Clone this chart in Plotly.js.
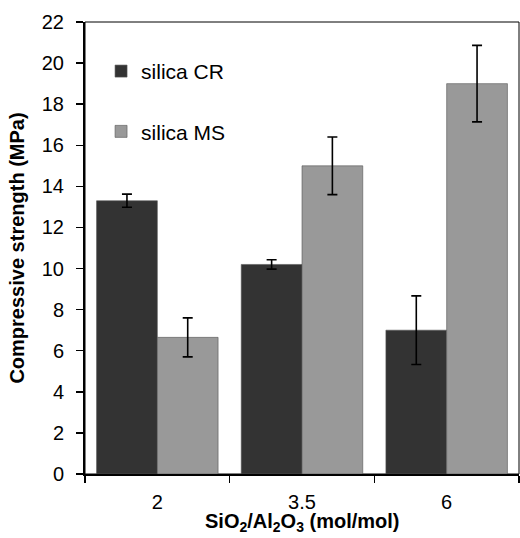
<!DOCTYPE html>
<html><head><meta charset="utf-8">
<script src="https://cdn.plot.ly/plotly-3.0.1.min.js"></script>
<style>html,body{margin:0;padding:0;background:#fff}#chart{width:520px;height:538px}</style>
</head><body><div id="chart"></div>
<script>
var categories = ["2", "3.5", "6"];
var seriesNames = ["silica CR", "silica MS"];
var crValues = [13.3, 10.2, 7.0];
var crErrors = [0.32, 0.23, 1.67];
var msValues = [6.65, 15.0, 19.0];
var msErrors = [0.95, 1.4, 1.86];
var yTickValues = [0, 2, 4, 6, 8, 10, 12, 14, 16, 18, 20, 22];
var xTitle = "<b>SiO<sub>2</sub>/Al<sub>2</sub>O<sub>3</sub> (mol/mol)</b>";
var yTitle = "<b>Compressive strength (MPa)</b>";

var font = "Arial, 'Liberation Sans', sans-serif";
function barTrace(name, vals, errs, color, group) {
  return {
    type: "bar", name: name, x: categories, y: vals, legendgroup: group,
    marker: {color: color, line: {color: "#555", width: 0.6}},
    error_y: {type: "data", array: errs, visible: true, color: "#000", thickness: 1.6, width: 5}
  };
}
var data = [
  barTrace(seriesNames[0], crValues, crErrors, "#333333", "a"),
  barTrace(seriesNames[1], msValues, msErrors, "#999999", "b")
];
var layout = {
  width: 520, height: 538,
  margin: {l: 85, r: 1, t: 22, b: 64},
  paper_bgcolor: "#fff", plot_bgcolor: "#fff",
  barmode: "group", bargap: 0.16, bargroupgap: 0,
  font: {family: font, size: 20, color: "#000"},
  showlegend: true,
  legend: {x: 0.037, y: 0.936, xanchor: "left", yanchor: "top", bgcolor: "rgba(0,0,0,0)",
           font: {family: font, size: 21, color: "#000"}, traceorder: "grouped", tracegroupgap: 30,
           itemwidth: 30},
  xaxis: {type: "category", tickson: "boundaries", ticks: "outside", ticklen: 7, tickwidth: 1.5, tickcolor: "#000",
          showline: true, linecolor: "#000", linewidth: 2, showgrid: false, zeroline: false,
          ticklabelstandoff: 9,
          tickfont: {family: font, size: 20, color: "#000"}},
  yaxis: {range: [0, 22], tickvals: yTickValues, ticks: "outside", ticklen: 7, tickwidth: 1.5, tickcolor: "#000",
          showline: true, linecolor: "#000", linewidth: 2, showgrid: false, zeroline: false,
          ticklabelstandoff: 8,
          tickfont: {family: font, size: 20, color: "#000"},
          title: {text: yTitle, font: {family: font, size: 20, color: "#000"}, standoff: 12}},
  annotations: [{text: xTitle, xref: "paper", yref: "paper", x: 0.5, y: -0.108, xanchor: "center", yanchor: "middle",
                 showarrow: false, font: {family: font, size: 20, color: "#000"}}],
  shapes: [{type: "rect", xref: "paper", yref: "paper", x0: 0, x1: 1, y0: 0, y1: 1, line: {color: "#000", width: 1}, layer: "below"}]
};
Plotly.newPlot("chart", data, layout, {displayModeBar: false, staticPlot: true});
</script></body></html>
